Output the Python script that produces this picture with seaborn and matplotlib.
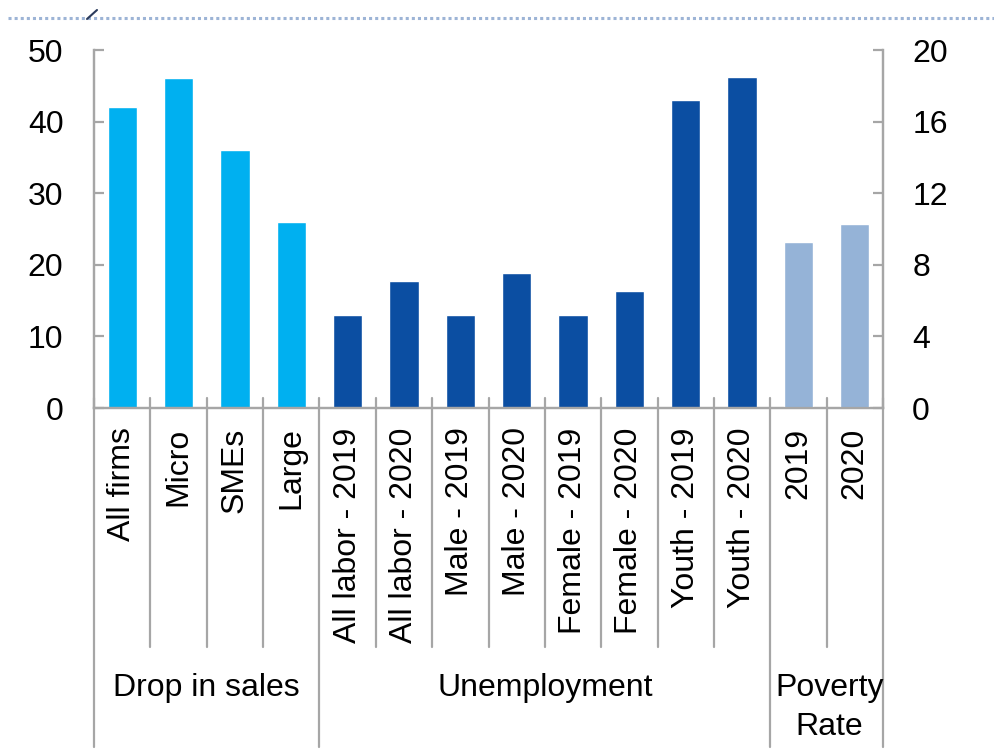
import matplotlib
matplotlib.use('Agg')
import matplotlib.pyplot as plt
from matplotlib.lines import Line2D
import pandas as pd
import seaborn as sns

# categorii si valori
categorii = ['All firms', 'Micro', 'SMEs', 'Large',
             'All labor - 2019', 'All labor - 2020', 'Male - 2019', 'Male - 2020',
             'Female - 2019', 'Female - 2020', 'Youth - 2019', 'Youth - 2020',
             '2019', '2020']
drop_sales = [42.0, 46.1, 36.0, 26.0]
somaj = [13.0, 17.7, 13.0, 18.9, 13.0, 16.3, 43.0, 46.2]
saracie = [9.3, 10.3]  # axa din dreapta
grupuri = ['Drop in sales', 'Unemployment', 'Poverty\nRate']

culori = ['#00B0F0'] * 4 + ['#0B4EA2'] * 8 + ['#95B3D7'] * 2
paleta = dict(zip(categorii, culori))

df_stanga = pd.DataFrame({'cat': categorii[:12], 'val': drop_sales + somaj})
df_dreapta = pd.DataFrame({'cat': categorii[12:], 'val': saracie})

sns.set_style('white')
plt.rcParams['font.family'] = ['Liberation Sans', 'DejaVu Sans']
plt.rcParams['text.color'] = 'black'
plt.rcParams['xtick.labelcolor'] = 'black'
plt.rcParams['ytick.labelcolor'] = 'black'
gri = '#A6A6A6'
fs = 23

fig = plt.figure(figsize=(9.94, 7.5), dpi=100)
ax = fig.add_axes([94 / 994, 1 - 408 / 750, (883 - 94) / 994, 358 / 750])

sns.barplot(data=df_stanga, x='cat', y='val', order=categorii, hue='cat',
            palette=paleta, legend=False, width=0.52, saturation=1, ax=ax)
ax2 = ax.twinx()
sns.barplot(data=df_dreapta, x='cat', y='val', order=categorii, hue='cat',
            palette=paleta, legend=False, width=0.52, saturation=1, ax=ax2)

ax.set_xlim(-0.5, len(categorii) - 0.5)
ax.set_ylim(0, 50)
ax2.set_ylim(0, 20)
ax.set_yticks(range(0, 51, 10))
ax2.set_yticks(range(0, 21, 4))
ax.set_xlabel('')
ax.set_ylabel('')
ax2.set_xlabel('')
ax2.set_ylabel('')

for a in (ax, ax2):
    for s in a.spines.values():
        s.set_color(gri)
        s.set_linewidth(1.6)
    a.spines['top'].set_visible(False)

ax.tick_params(axis='y', direction='in', length=7, width=1.6, color=gri,
               pad=22, labelsize=fs, left=True, labelcolor='black')
ax2.tick_params(axis='y', direction='in', length=7, width=1.6, color=gri,
                pad=21, labelsize=fs, right=True, labelcolor='black')
ax.set_xticks(range(len(categorii)))
ax.set_xticklabels(categorii, rotation=90, fontsize=fs, color='black')
ax.tick_params(axis='x', length=0, pad=14, bottom=False)
ax2.tick_params(axis='x', length=0, bottom=False, labelbottom=False)

# liniile de separare sub axa
trans = ax.get_xaxis_transform()
margini_grup = [0, 4, 12, 14]
for k in range(len(categorii) + 1):
    jos = -0.947 if k in margini_grup else -0.668
    ax.plot([k - 0.5, k - 0.5], [0.028, jos], color=gri, lw=1.6,
            transform=trans, clip_on=False, zorder=0)

# etichetele grupurilor
centre = [1.5, 7.5, 12.55]
y_grup = [-0.782, -0.782, -0.837]
for txt, cx, cy in zip(grupuri, centre, y_grup):
    ax.text(cx, cy, txt, transform=trans, ha='center', va='center',
            fontsize=fs, linespacing=1.38, color='black')

# linia punctata de sus
fig.add_artist(Line2D([8 / 994, 1.0], [1 - 18 / 750, 1 - 18 / 750],
                      color='#9DB4D6', lw=2.2, linestyle=(0, (1, 1))))
fig.add_artist(Line2D([87 / 994, 97 / 994], [1 - 19 / 750, 1 - 10 / 750],
                      color='#2B3B5C', lw=1.5))

fig.savefig('out.png', dpi=100)
